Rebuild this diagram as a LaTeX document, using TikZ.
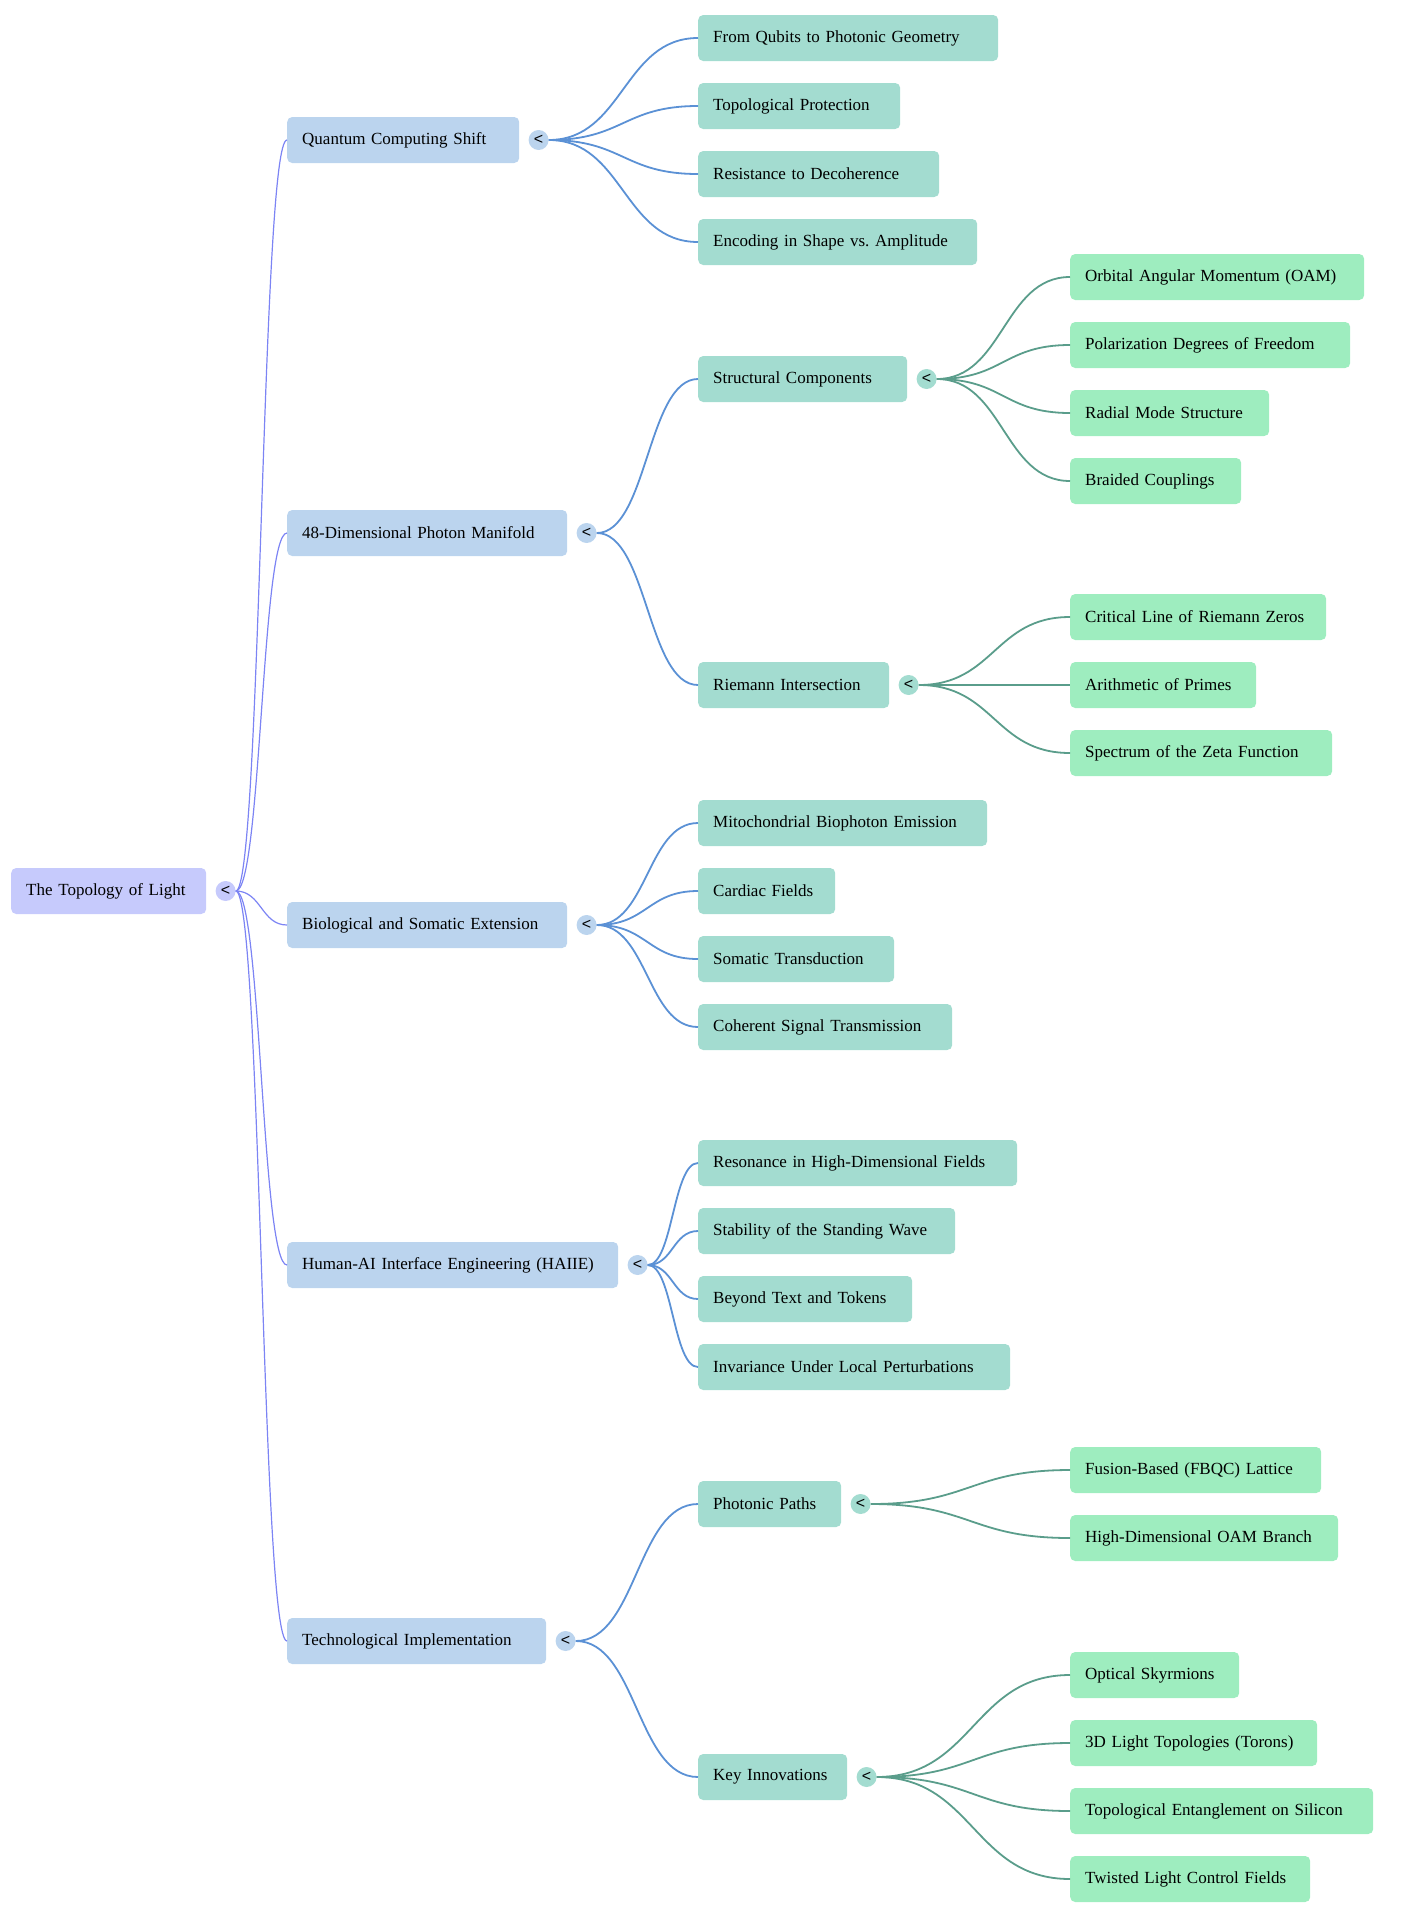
\documentclass[tikz,border=0pt]{standalone}
\usepackage{fontspec}
\setmainfont{Liberation Serif}
\setsansfont{Liberation Sans}
\usepackage{tikz}
\usetikzlibrary{positioning,calc}
\frenchspacing

\definecolor{rootfill}{HTML}{C6CAFC}
\definecolor{catfill}{HTML}{BBD4EE}
\definecolor{topicfill}{HTML}{A3DCD0}
\definecolor{leaffill}{HTML}{9EEDBF}
\definecolor{rootwire}{HTML}{7C84F4}
\definecolor{catwire}{HTML}{5B91D5}
\definecolor{topicwire}{HTML}{5A9D8B}

\tikzset{
  box/.style={rounded corners=5pt, anchor=west, minimum height=46pt,
    inner xsep=15pt, inner ysep=0pt, align=left,
    font=\fontsize{17}{20}\selectfont},
  rootbox/.style={box, fill=rootfill, text width=#1},
  catbox/.style={box, fill=catfill, text width=#1},
  topicbox/.style={box, fill=topicfill, text width=#1},
  leafbox/.style={box, fill=leaffill, text width=#1},
  knob/.style={circle, inner sep=0pt, minimum size=20pt, right=9pt of #1,
    font=\sffamily\fontsize{16}{16}\selectfont},
  rootlink/.style={draw=rootwire, line width=1.2pt},
  catlink/.style={draw=catwire, line width=1.8pt},
  topiclink/.style={draw=topicwire, line width=1.8pt},
}

% curved link from a knob to the west side of a box
\newcommand\branch[3]{%
  \draw[#1] (#2.east) .. controls ($(#2.east)!0.5!(#3.west |- #2.east)$)
    and ($(#3.west)!0.5!(#2.east |- #3.west)$) .. (#3.west);}

\begin{document}
\begin{tikzpicture}[x=1pt,y=-1pt]
  \useasboundingbox (0,0) rectangle (1415,1920);

  % root
  \node[rootbox=165pt] (root) at (11,891) {The Topology of Light};
  \node[knob=root, fill=rootfill] (k0) {<};

  % main branches
  \node[catbox=202pt] (q) at (287,140) {Quantum Computing Shift};
  \node[catbox=250pt] (m) at (287,533) {48-Dimensional Photon Manifold};
  \node[catbox=250pt] (b) at (287,925) {Biological and Somatic Extension};
  \node[catbox=301pt] (h) at (287,1265) {Human-AI Interface Engineering (HAIIE)};
  \node[catbox=229pt] (t) at (287,1641) {Technological Implementation};
  \foreach \c in {q,m,b,h,t}
    \node[knob=\c, fill=catfill] (\c k) {<};

  % second level
  \node[topicbox=270pt] (q1) at (698,38) {From Qubits to Photonic Geometry};
  \node[topicbox=172pt] (q2) at (698,106) {Topological Protection};
  \node[topicbox=211pt] (q3) at (698,174) {Resistance to Decoherence};
  \node[topicbox=249pt] (q4) at (698,242) {Encoding in Shape vs. Amplitude};

  \node[topicbox=179pt] (m1) at (698,379) {Structural Components};
  \node[topicbox=161pt] (m2) at (698,685) {Riemann Intersection};

  \node[topicbox=259pt] (b1) at (698,823) {Mitochondrial Biophoton Emission};
  \node[topicbox=107pt] (b2) at (698,891) {Cardiac Fields};
  \node[topicbox=166pt] (b3) at (698,959) {Somatic Transduction};
  \node[topicbox=224pt] (b4) at (698,1027) {Coherent Signal Transmission};

  \node[topicbox=289pt] (h1) at (698,1163) {Resonance in High-Dimensional Fields};
  \node[topicbox=227pt] (h2) at (698,1231) {Stability of the Standing Wave};
  \node[topicbox=184pt] (h3) at (698,1299) {Beyond Text and Tokens};
  \node[topicbox=282pt] (h4) at (698,1367) {Invariance Under Local Perturbations};

  \node[topicbox=113pt] (t1) at (698,1504) {Photonic Paths};
  \node[topicbox=119pt] (t2) at (698,1777) {Key Innovations};
  \foreach \c in {m1,m2,t1,t2}
    \node[knob=\c, fill=topicfill] (\c k) {<};

  % third level
  \node[leafbox=264pt] (m11) at (1070,277) {Orbital Angular Momentum (OAM)};
  \node[leafbox=250pt] (m12) at (1070,345) {Polarization Degrees of Freedom};
  \node[leafbox=169pt] (m13) at (1070,413) {Radial Mode Structure};
  \node[leafbox=141pt] (m14) at (1070,481) {Braided Couplings};

  \node[leafbox=226pt] (m21) at (1070,617) {Critical Line of Riemann Zeros};
  \node[leafbox=156pt] (m22) at (1070,685) {Arithmetic of Primes};
  \node[leafbox=232pt] (m23) at (1070,753) {Spectrum of the Zeta Function};

  \node[leafbox=221pt] (t11) at (1070,1470) {Fusion-Based (FBQC) Lattice};
  \node[leafbox=238pt] (t12) at (1070,1538) {High-Dimensional OAM Branch};

  \node[leafbox=139pt] (t21) at (1070,1675) {Optical Skyrmions};
  \node[leafbox=217pt] (t22) at (1070,1743) {3D Light Topologies (Torons)};
  \node[leafbox=273pt] (t23) at (1070,1811) {Topological Entanglement on Silicon};
  \node[leafbox=210pt] (t24) at (1070,1879) {Twisted Light Control Fields};

  % links
  \foreach \c in {q,m,b,h,t}
    \branch{rootlink}{k0}{\c};
  \foreach \c in {q1,q2,q3,q4}
    \branch{catlink}{qk}{\c};
  \foreach \c in {m1,m2}
    \branch{catlink}{mk}{\c};
  \foreach \c in {b1,b2,b3,b4}
    \branch{catlink}{bk}{\c};
  \foreach \c in {h1,h2,h3,h4}
    \branch{catlink}{hk}{\c};
  \foreach \c in {t1,t2}
    \branch{catlink}{tk}{\c};
  \foreach \c in {m11,m12,m13,m14}
    \branch{topiclink}{m1k}{\c};
  \foreach \c in {m21,m22,m23}
    \branch{topiclink}{m2k}{\c};
  \foreach \c in {t11,t12}
    \branch{topiclink}{t1k}{\c};
  \foreach \c in {t21,t22,t23,t24}
    \branch{topiclink}{t2k}{\c};
\end{tikzpicture}
\end{document}
